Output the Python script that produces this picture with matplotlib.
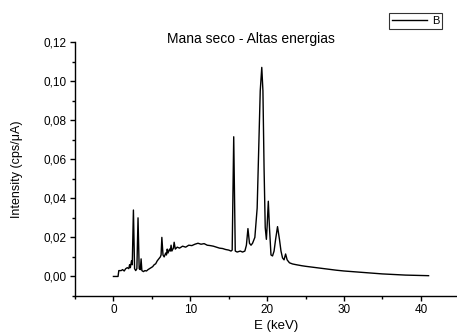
import matplotlib
matplotlib.use("Agg")
import matplotlib.pyplot as plt
from matplotlib.ticker import MultipleLocator, FuncFormatter

plt.rcParams["font.family"] = ["Liberation Sans", "DejaVu Sans"]

# spectrum: energy (keV) and intensity (cps/uA)
energy = [
    0.0, 0.6, 0.7, 1.0, 1.2, 1.4, 1.6, 1.8, 2.0, 2.1, 2.2, 2.35, 2.45, 2.6,
    2.75, 2.9, 3.05, 3.2, 3.35, 3.5, 3.6, 3.7, 3.9, 4.1, 4.3, 4.5, 4.7, 4.9,
    5.1, 5.3, 5.5, 5.7, 5.9, 6.0, 6.1, 6.2, 6.3, 6.45, 6.6, 6.8, 6.9, 7.0,
    7.1, 7.3, 7.4, 7.5, 7.6, 7.8, 7.9, 8.05, 8.3, 8.6, 9.0, 9.4, 9.8, 10.2,
    10.6, 11.0, 11.4, 11.8, 12.2, 12.6, 13.0, 13.4, 13.8, 14.2, 14.6, 15.0,
    15.3, 15.45, 15.65, 15.85, 16.1, 16.5, 16.8, 17.1, 17.3, 17.5, 17.7,
    17.9, 18.1, 18.4, 18.7, 18.9, 19.1, 19.3, 19.45, 19.6, 19.75, 19.9,
    20.0, 20.15, 20.3, 20.5, 20.7, 20.9, 21.1, 21.35, 21.6, 21.8, 22.0,
    22.2, 22.4, 22.6, 22.9, 23.3, 23.8, 24.5, 25.0, 26.0, 27.0, 28.0, 29.0,
    30.0, 31.0, 32.0, 33.0, 34.0, 35.0, 36.0, 37.0, 38.0, 39.0, 40.0, 41.0,
]
intensity = [
    0.000, 0.000, 0.003, 0.003, 0.0035, 0.0028, 0.004, 0.0045, 0.004, 0.006,
    0.0045, 0.008, 0.006, 0.034, 0.004, 0.003, 0.004, 0.030, 0.004, 0.0035,
    0.009, 0.003, 0.0025, 0.003, 0.0028, 0.0035, 0.004, 0.0045, 0.005,
    0.006, 0.0065, 0.008, 0.009, 0.0095, 0.010, 0.011, 0.020, 0.011, 0.010,
    0.012, 0.011, 0.014, 0.012, 0.014, 0.013, 0.016, 0.013, 0.0145, 0.0175,
    0.014, 0.015, 0.0145, 0.0155, 0.015, 0.016, 0.0158, 0.0165, 0.017,
    0.0165, 0.0168, 0.016, 0.0158, 0.0155, 0.015, 0.0145, 0.0143, 0.0138,
    0.0135, 0.013, 0.0135, 0.0715, 0.013, 0.0125, 0.013, 0.0125, 0.013,
    0.016, 0.0245, 0.017, 0.016, 0.017, 0.020, 0.035, 0.065, 0.095, 0.107,
    0.095, 0.055, 0.025, 0.019, 0.026, 0.0385, 0.025, 0.011, 0.0105, 0.013,
    0.019, 0.0255, 0.019, 0.013, 0.0095, 0.0085, 0.0115, 0.0085, 0.007,
    0.0064, 0.006, 0.0055, 0.0052, 0.0047, 0.0042, 0.0037, 0.0032, 0.0028,
    0.0025, 0.0022, 0.0019, 0.0016, 0.0013, 0.0011, 0.0009, 0.0007, 0.0006,
    0.0005, 0.0004,
]

fig = plt.figure(figsize=(4.57, 3.36), dpi=100)
ax = fig.add_axes([75 / 457, 40 / 336, 1 - 75 / 457, 254 / 336])

ax.plot(energy, intensity, color="black", lw=1.0, label="B")

ax.set_xlim(-5, 44.7)
ax.set_ylim(-0.01, 0.12)
ax.xaxis.set_major_locator(MultipleLocator(10))
ax.xaxis.set_minor_locator(MultipleLocator(5))
ax.yaxis.set_major_locator(MultipleLocator(0.02))
ax.yaxis.set_minor_locator(MultipleLocator(0.01))
ax.yaxis.set_major_formatter(
    FuncFormatter(lambda v, p: f"{v:.2f}".replace(".", ",").replace("-0,00", "0,00")))

for s in ["top", "right"]:
    ax.spines[s].set_visible(False)
ax.spines["left"].set_linewidth(1.0)
ax.spines["bottom"].set_linewidth(1.0)
ax.tick_params(which="major", direction="out", length=3.5, width=1,
               labelsize=8.5, pad=2.5)
ax.tick_params(which="minor", direction="out", length=2, width=1)

ax.set_xlabel("E (keV)", fontsize=9.5)
ax.set_ylabel("Intensity (cps/\u03bcA)", fontsize=9)
ax.xaxis.set_label_coords(0.527, -0.095)
ax.yaxis.set_label_coords(-0.137, 0.5)
fig.text(251 / 457, 1 - 39 / 336, "Mana seco - Altas energias",
         fontsize=10, ha="center", va="center")

leg = fig.legend(loc="upper right", bbox_to_anchor=(442 / 457, 1 - 13 / 336),
                 frameon=True, fancybox=False, fontsize=8, handlelength=3.2,
                 borderpad=0.25, handletextpad=0.4, borderaxespad=0)
leg.get_frame().set_edgecolor("black")
leg.get_frame().set_linewidth(0.8)

fig.savefig("out.png", dpi=100)
